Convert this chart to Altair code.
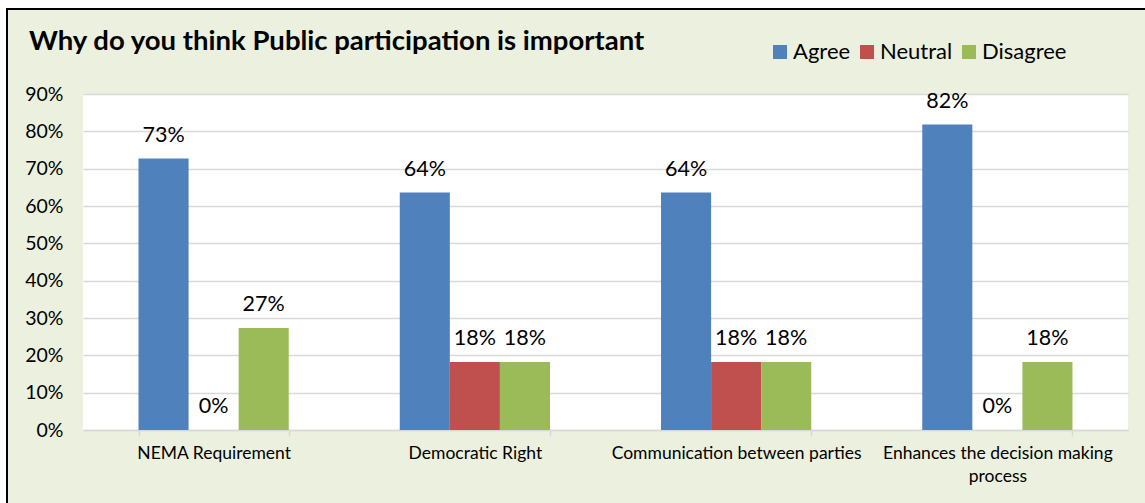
import altair as alt
import pandas as pd

categories = ["NEMA Requirement", "Democratic Right", "Communication between parties",
              "Enhances the decision making process"]
series = ["Agree", "Neutral", "Disagree"]
agree = [0.727, 0.636, 0.636, 0.818]
neutral = [0.0, 0.182, 0.182, 0.0]
disagree = [0.273, 0.182, 0.182, 0.182]
colors = ["#4F81BD", "#C0504D", "#9BBB59"]
y_ticks = [0.0, 0.1, 0.2, 0.3, 0.4, 0.5, 0.6, 0.7, 0.8, 0.9]
title_text = "Why do you think Public participation is important"

rows = []
for i, c in enumerate(categories):
    for s, vals in zip(series, [agree, neutral, disagree]):
        rows.append({"category": c, "series": s, "value": vals[i]})
df = pd.DataFrame(rows)

W, H = 1045, 336
FONT = "Lato"

x_enc = alt.X(
    "category:N", sort=categories, title=None,
    scale=alt.Scale(paddingInner=0.425, paddingOuter=0.2125),
    axis=alt.Axis(
        labelAngle=0, labelFont=FONT, labelFontSize=17.5, labelColor="#000000",
        labelPadding=8, labelLimit=300, labelLineHeight=23,
        labelExpr="datum.label == 'Enhances the decision making process' ? ['Enhances the decision making', 'process'] : datum.label",
        tickBand="extent", tickColor="#D9D9D9", tickSize=6, tickWidth=1.5,
        domainColor="#D9D9D9", domainWidth=1.5, grid=False,
    ),
)
xoff = alt.XOffset("series:N", sort=series,
                   scale=alt.Scale(paddingInner=0, paddingOuter=0))
y_enc = alt.Y(
    "value:Q", scale=alt.Scale(domain=[0, 0.9]), title=None,
    axis=alt.Axis(values=y_ticks, format=".0%", domain=False, ticks=False,
                  labelPadding=20, labelFont=FONT, labelFontSize=19.5,
                  labelColor="#000000", gridColor="#D9D9D9", gridWidth=1.5),
)
color_enc = alt.Color(
    "series:N", sort=series, title=None,
    scale=alt.Scale(domain=series, range=colors),
    legend=alt.Legend(orient="none", legendX=686, legendY=-53, direction="horizontal",
                      symbolType="square", symbolSize=196, symbolStrokeWidth=0,
                      labelFont=FONT, labelFontSize=22, labelColor="#000000",
                      labelOffset=2, columnPadding=5),
)

base = alt.Chart(df)
bars = base.mark_bar().encode(x=x_enc, xOffset=xoff, y=y_enc, color=color_enc)
labels = base.mark_text(dy=-17, baseline="alphabetic", font=FONT, fontSize=21.5,
                        color="#000000").encode(
    x=x_enc, xOffset=xoff, y=y_enc, text=alt.Text("value:Q", format=".0%"))

deco = pd.DataFrame({"k": [0]})
white_left = alt.Chart(deco).mark_rect(color="white").encode(
    x=alt.value(-83), x2=alt.value(-76), y=alt.value(-94), y2=alt.value(H + 73))
white_top = alt.Chart(deco).mark_rect(color="white").encode(
    x=alt.value(-83), x2=alt.value(W + 17), y=alt.value(-94), y2=alt.value(-85))
border = alt.Chart(deco).mark_rect(fillOpacity=0, stroke="#000000", strokeWidth=2).encode(
    x=alt.value(-76), x2=alt.value(W + 60), y=alt.value(-85), y2=alt.value(H + 120))

chart = alt.layer(white_left, white_top, border, bars, labels).properties(
    width=W, height=H,
    title=alt.TitleParams(text=title_text, anchor="start", font=FONT, fontSize=27.5,
                          fontWeight="bold", color="#000000", dx=-54, offset=-77,
                          baseline="alphabetic", frame="group"),
    autosize=alt.AutoSizeParams(type="none"),
    padding={"left": 83, "top": 94, "right": 17, "bottom": 73},
    background="#EBF1DE",
).configure_view(fill="white", stroke=None)

chart.save("out.html", embed_options={"renderer": "svg", "actions": False})
